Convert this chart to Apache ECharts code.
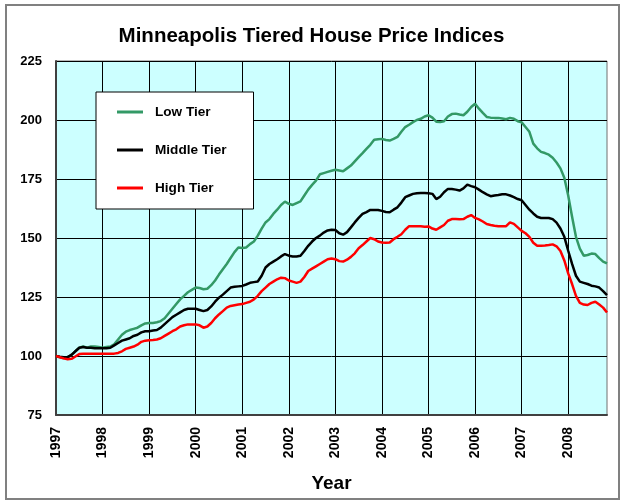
<!DOCTYPE html>
<html>
<head>
<meta charset="utf-8">
<script src="https://cdn.jsdelivr.net/npm/echarts@6/dist/echarts.min.js"></script>
<style>
html,body{margin:0;padding:0;background:#fff;}
#chart{width:623px;height:502px;}
</style>
</head>
<body>
<div id="chart"></div>
<script>
const years = ['1997','1998','1999','2000','2001','2002','2003','2004','2005','2006','2007','2008'];
const lastMonthCount = 11; // Jan..Nov 2008
const yTicks = [75, 100, 125, 150, 175, 200, 225];

const lowTier = [
  100, 99.5, 99, 99.5, 100.5, 102, 103.5, 104, 103.5, 104, 104, 103.8,
  103.5, 103.8, 104, 105, 107, 109, 110.3, 111, 111.5, 112, 113, 113.8,
  114, 114, 114.3, 114.8, 116, 118, 120, 122, 124, 125.5, 127, 128,
  129, 128.8, 128.3, 128.5, 130, 132, 134.5, 136.8, 139, 141.5, 144, 146,
  145.8, 146, 147.4, 148.5, 151, 154, 156.6, 158, 160.2, 162, 164, 165.4,
  164.5, 164, 164.8, 165.5, 168, 170.5, 172.5, 174.3, 177, 177.5, 178, 178.5,
  178.9, 178.6, 178.3, 179.5, 180.7, 182.5, 184.3, 186, 187.8, 189.5, 191.6, 191.8,
  192, 191.5, 191.3, 192, 192.8, 195, 197, 198, 199.1, 200, 200.5, 201.5,
  202, 201, 199.3, 199.1, 199.5, 201.5, 202.5, 202.7, 202.3, 202, 203.5, 205.5,
  206.9, 204.8, 203, 201.3, 201, 200.9, 200.9, 200.6, 200.3, 200.9, 200.5, 199.5,
  199, 197, 195, 190, 188, 186.5, 186, 185.3, 184, 182, 179.5, 175.5,
  168, 159, 150.5, 145.5, 142.5, 142.8, 143.4, 143.2, 141.5, 140, 139.2
];
const middleTier = [
  100, 99.7, 99.5, 99.5, 100.5, 102, 103.5, 103.8, 103.5, 103.5, 103.3, 103.3,
  103.3, 103.3, 103.5, 104.5, 105.5, 106.5, 107, 107.5, 108.5, 109, 110, 110.5,
  110.5, 110.8, 111, 112, 113.5, 115, 116.5, 117.5, 118.5, 119.5, 120, 120,
  120, 119.5, 119, 119.5, 121, 123, 124.7, 126, 127.5, 129, 129.3, 129.5,
  129.7, 130.3, 131, 131.3, 131.6, 134, 137.5, 139, 140, 141, 142.2, 143.2,
  142.5, 142.2, 142.2, 142.5, 144.5, 146.7, 148.5, 150, 151, 152.3, 153.2, 153.5,
  153.4, 152, 151.4, 152.5, 154.5, 156.6, 158.5, 160.2, 161, 161.9, 161.9, 161.9,
  161.5, 161, 160.9, 162, 163, 165, 167.3, 168, 168.7, 169, 169.1, 169.1,
  169, 168.7, 166.5, 167.5, 169.4, 170.8, 170.8, 170.5, 170.1, 171, 172.6, 172,
  171.5, 170.5, 169.4, 168.5, 167.7, 168, 168.2, 168.5, 168.5, 168, 167.3, 166.5,
  166, 164, 162, 160.4, 159, 158.5, 158.5, 158.5, 158, 156.5, 154, 150.5,
  144.6, 139, 134, 131.5, 131, 130.5, 129.8, 129.5, 129, 127.5, 125.8
];
const highTier = [
  100, 99.5, 99, 98.6, 98.8, 99.8, 100.8, 101, 101, 101, 101, 101,
  101, 101, 101, 101, 101.3, 102, 103, 103.5, 104, 104.8, 106, 106.5,
  106.7, 106.8, 107, 107.5, 108.5, 109.5, 110.5, 111.3, 112.5, 113, 113.4, 113.4,
  113.4, 113, 112, 112.5, 114, 116, 117.6, 119, 120.5, 121.2, 121.5, 121.8,
  122, 122.5, 123, 124, 125.5, 127.5, 129, 130.5, 131.5, 132.5, 133.2, 133,
  132, 131.5, 131, 131.5, 133.5, 136, 137, 138, 139, 140, 141, 141.3,
  141, 140.2, 140, 140.8, 142, 143.5, 145.7, 147, 148.5, 150, 149.5, 148.5,
  148.1, 148, 148.1, 149.5, 150.5, 151.6, 153.5, 155, 155, 155, 155, 154.8,
  154.9, 154, 153.5, 154.5, 155.5, 157.3, 158, 158, 157.9, 158, 159, 159.7,
  158.5, 157.9, 157, 155.9, 155.5, 155.2, 155, 155, 155, 156.6, 156, 154.5,
  153, 152, 150.5, 148, 146.7, 146.7, 146.8, 147, 147.3, 146.5, 144.5, 140.5,
  135, 130.5, 125.5, 122.5, 121.8, 121.6, 122.5, 123, 121.8, 120.5, 118.4
];

const categories = [];
years.forEach((y, i) => {
  const n = (i === years.length - 1) ? lastMonthCount : 12;
  for (let m = 1; m <= n; m++) categories.push(y + '-' + (m < 10 ? '0' + m : m));
});

const chart = echarts.init(document.getElementById('chart'), null, {renderer: 'canvas'});
const font = '"Liberation Sans", Arial, sans-serif';
const isYearStart = (idx) => idx % 12 === 0;

chart.setOption({
  animation: false,
  backgroundColor: '#ffffff',
  textStyle: {fontFamily: font},
  title: {
    text: 'Minneapolis Tiered House Price Indices',
    left: 'center',
    top: 21,
    textStyle: {fontFamily: font, fontSize: 20.5, fontWeight: 'bold', color: '#000'}
  },
  graphic: [{
    type: 'rect',
    shape: {x: 6, y: 5, width: 613, height: 494},
    style: {fill: 'none', stroke: '#808080', lineWidth: 2},
    silent: true
  }],
  legend: {
    orient: 'vertical',
    left: 96,
    top: 92,
    padding: [12, 27, 13, 21],
    itemGap: 22,
    itemWidth: 26,
    itemHeight: 3,
    icon: 'rect',
    backgroundColor: '#ffffff',
    borderColor: '#000000',
    borderWidth: 1,
    textStyle: {fontFamily: font, fontSize: 13.6, fontWeight: 'bold', color: '#000', lineHeight: 16, padding: [0, 0, 0, 7]},
    data: ['Low Tier', 'Middle Tier', 'High Tier']
  },
  grid: {
    left: 56, top: 61, right: 16, bottom: 87,
    show: true,
    backgroundColor: '#ccffff',
    borderColor: '#707070',
    borderWidth: 1
  },
  xAxis: {
    type: 'category',
    data: categories,
    boundaryGap: false,
    name: 'Year',
    nameLocation: 'middle',
    nameGap: 59,
    nameTextStyle: {fontFamily: font, fontSize: 19, fontWeight: 'bold', color: '#000'},
    axisLine: {show: true, lineStyle: {color: '#404040', width: 2}},
    axisTick: {show: false},
    axisLabel: {
      interval: (idx) => isYearStart(idx),
      formatter: (v) => v.slice(0, 4),
      rotate: 90,
      margin: 12,
      fontFamily: font, fontSize: 14, fontWeight: 'bold', color: '#000'
    },
    splitLine: {show: true, interval: (idx) => isYearStart(idx), lineStyle: {color: '#000', width: 1}}
  },
  yAxis: {
    type: 'value',
    min: yTicks[0],
    max: yTicks[yTicks.length - 1],
    interval: 25,
    axisLine: {show: true, lineStyle: {color: '#404040', width: 2}},
    axisTick: {show: false},
    axisLabel: {margin: 14, fontFamily: font, fontSize: 13, fontWeight: 'bold', color: '#000'},
    splitLine: {show: true, lineStyle: {color: '#000', width: 1}}
  },
  series: [
    {name: 'Low Tier', type: 'line', data: lowTier, showSymbol: false, symbol: 'none',
     lineStyle: {color: '#339966', width: 2.5}, itemStyle: {color: '#339966'}},
    {name: 'Middle Tier', type: 'line', data: middleTier, showSymbol: false, symbol: 'none',
     lineStyle: {color: '#000000', width: 2.5}, itemStyle: {color: '#000000'}},
    {name: 'High Tier', type: 'line', data: highTier, showSymbol: false, symbol: 'none',
     lineStyle: {color: '#ff0000', width: 2.5}, itemStyle: {color: '#ff0000'}}
  ]
});
</script>
</body>
</html>
